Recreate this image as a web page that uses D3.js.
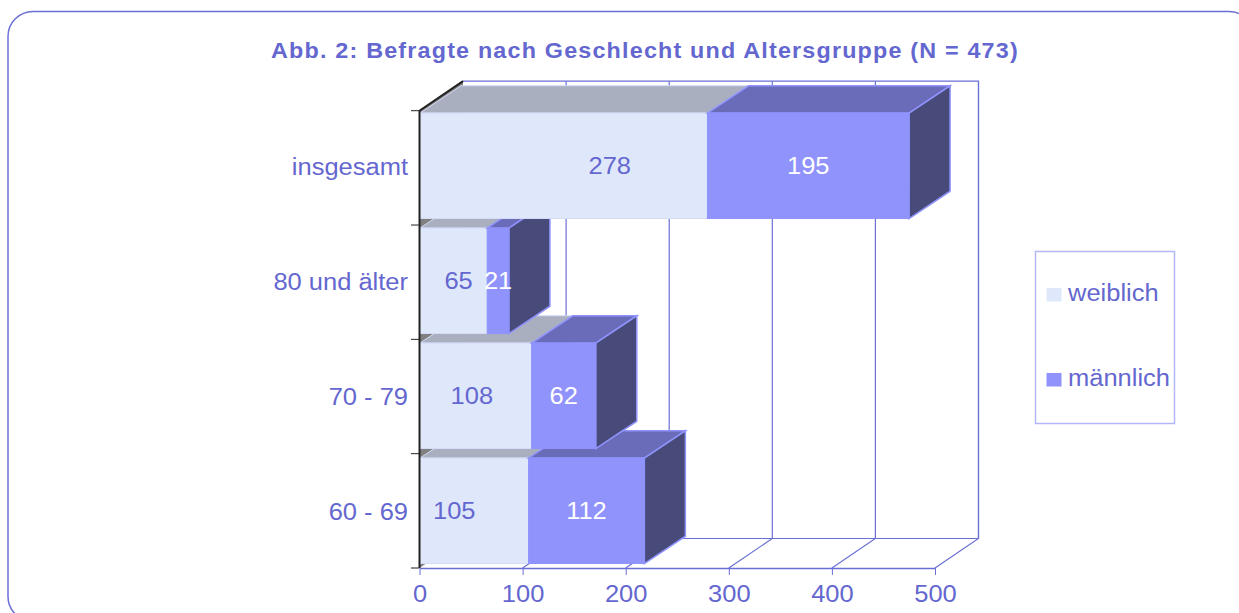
<!DOCTYPE html>
<html>
<head>
<meta charset="utf-8">
<script src="https://cdn.jsdelivr.net/npm/d3@7"></script>
<style>
  html, body { margin: 0; padding: 0; background: #fff; overflow: hidden; }
  svg { display: block; }
  text { font-family: "Liberation Sans", Arial, sans-serif; fill: #6467cf; }
</style>
</head>
<body>
<svg id="chart" width="1239" height="613"></svg>
<script>
// Chart values, bottom category first
const categories = ['60 - 69', '70 - 79', '80 und älter', 'insgesamt'];
const weiblich = [105, 108, 65, 278];
const maennlich = [112, 62, 21, 195];
const seriesNames = ['weiblich', 'männlich'];
const xTicks = [0, 100, 200, 300, 400, 500];

// Colors for front, top and side of each series
const seriesColors = {
    'weiblich': { front: '#dfe8fb', top: '#a9afbf', side: '#848796', edge: '#d3dbf7', width: 1 },
    'männlich': { front: '#8f93fb', top: '#6a6cba', side: '#484a7a', edge: '#8f93fb', width: 1.5 }
};
const lineColor = '#6a6fd6';

// The text in the original is stretched sideways
const stretch = 1.085;
const fontSize = '23.5px';
const placeText = (px, py) => `translate(${px},${py}) scale(${stretch},1)`;

// The original labels of the first series do not sit in the middle of the bars
const weiblichLabelShift = [-20, -4, 5, 46];

const svg = d3.select('#chart');

// Outer frame, its right and lower edges run off the picture
svg.append('rect')
    .attr('x', 8).attr('y', 11.5)
    .attr('width', 1246).attr('height', 610)
    .attr('rx', 25).attr('ry', 25)
    .attr('fill', 'none')
    .attr('stroke', lineColor)
    .attr('stroke-width', 1.5);

svg.append('text')
    .attr('transform', placeText(645, 58))
    .attr('text-anchor', 'middle')
    .style('font-size', '21.5px')
    .style('font-weight', 'bold')
    .style('letter-spacing', '1.1px')
    .text('Abb. 2: Befragte nach Geschlecht und Altersgruppe (N = 473)');

// Scales: the axis and the bars differ slightly in the original
const x = d3.scaleLinear().domain([0, 500]).range([419.5, 935]);
const barX = d3.scaleLinear().domain([0, 500]).range([420, 937]);
const y = d3.scaleBand().domain(categories).range([568.3, 108.3]).paddingInner(0.083).paddingOuter(0.0415);
const yTick = d3.scaleLinear().domain([0, categories.length]).range([568, 110.7]);

// Depth of the walls and of the bars
const wall = { dx: 43.5, dy: -29.5 };
const depth = { dx: 41, dy: -27.3 };

const line = d3.line();
const grid = svg.append('g').attr('fill', 'none').attr('stroke', lineColor).attr('stroke-width', 1.2);

// Left wall
svg.insert('path', 'g')
    .attr('d', line([
        [x(0), yTick(categories.length)],
        [x(0) + wall.dx, yTick(categories.length) + wall.dy],
        [x(0) + wall.dx, yTick(0) + wall.dy],
        [x(0), yTick(0)]
    ]) + 'Z')
    .attr('fill', '#808080');

// Back wall and floor
const backY = yTick(0) + wall.dy;
const topY = yTick(categories.length) + wall.dy;
grid.append('path').attr('d', line([[x(0) + wall.dx, topY], [x(500) + wall.dx, topY], [x(500) + wall.dx, backY], [x(0) + wall.dx, backY]]));
xTicks.slice(1).forEach(t => {
    grid.append('path').attr('d', line([[x(t), yTick(0)], [x(t) + wall.dx, backY], [x(t) + wall.dx, topY]]));
});

// Stacked bars, drawn bottom up so the upper ones cover the lower ones
const rows = categories.map((c, i) => ({ category: c, 'weiblich': weiblich[i], 'männlich': maennlich[i] }));
const stacked = d3.stack().keys(seriesNames)(rows);

categories.forEach((c, i) => {
    const groupBar = svg.append('g');
    const y0 = y(c);
    const h = y.bandwidth();
    stacked.forEach(s => {
        const col = seriesColors[s.key];
        const x0 = barX(s[i][0]);
        const x1 = barX(s[i][1]);
        groupBar.append('path')
            .attr('d', line([[x0, y0], [x0 + depth.dx, y0 + depth.dy], [x1 + depth.dx, y0 + depth.dy], [x1, y0]]) + 'Z')
            .attr('fill', col.top).attr('stroke', col.edge).attr('stroke-width', col.width);
        groupBar.append('path')
            .attr('d', line([[x1, y0], [x1 + depth.dx, y0 + depth.dy], [x1 + depth.dx, y0 + depth.dy + h], [x1, y0 + h]]) + 'Z')
            .attr('fill', col.side).attr('stroke', col.edge).attr('stroke-width', col.width);
        groupBar.append('rect')
            .attr('x', x0).attr('y', y0)
            .attr('width', x1 - x0).attr('height', h)
            .attr('fill', col.front).attr('stroke', col.edge).attr('stroke-width', 1);
    });
    // value labels
    stacked.forEach(s => {
        const shift = s.key === 'weiblich' ? weiblichLabelShift[i] : 0;
        groupBar.append('text')
            .attr('transform', placeText((barX(s[i][0]) + barX(s[i][1])) / 2 + shift, y0 + h / 2 + 8.5))
            .attr('text-anchor', 'middle')
            .style('font-size', fontSize)
            .style('fill', s.key === 'weiblich' ? '#6467cf' : '#ffffff')
            .text(s[i].data[s.key]);
    });
});

// X axis along the front of the floor
const xAxis = svg.append('g')
    .attr('transform', `translate(0,${yTick(0)})`)
    .call(d3.axisBottom(x).tickValues(xTicks).tickSize(7).tickSizeOuter(0));
xAxis.select('.domain').attr('stroke', lineColor).attr('stroke-width', 1.5);
xAxis.selectAll('line').attr('stroke', lineColor);
xAxis.selectAll('text')
    .attr('dy', null).attr('y', null)
    .attr('transform', placeText(0, 33.5))
    .style('font-size', fontSize);

// Y axis, ticks between the categories and labels on them
svg.append('g').selectAll('line')
    .data(d3.range(categories.length + 1))
    .join('line')
    .attr('x1', 411).attr('x2', 419)
    .attr('y1', d => yTick(d)).attr('y2', d => yTick(d))
    .attr('stroke', '#222');
svg.append('path')
    .attr('d', line([[x(0) + wall.dx, topY], [x(0), yTick(categories.length)], [x(0), yTick(0)]]))
    .attr('fill', 'none').attr('stroke', '#222').attr('stroke-width', 2);
svg.append('g').selectAll('text')
    .data(categories)
    .join('text')
    .attr('transform', d => placeText(408, y(d) + y.bandwidth() / 2 + 9.5))
    .attr('text-anchor', 'end')
    .style('font-size', fontSize)
    .text(d => d);

// Legend
const legend = svg.append('g');
legend.append('rect')
    .attr('x', 1035.5).attr('y', 251.5)
    .attr('width', 139).attr('height', 172)
    .attr('fill', '#fff').attr('stroke', '#b3b6f7').attr('stroke-width', 1.5);
const legendY = d3.scalePoint().domain(seriesNames).range([294.5, 379.5]);
seriesNames.forEach(name => {
    legend.append('rect')
        .attr('x', 1046.5).attr('y', legendY(name) - 6.5)
        .attr('width', 15).attr('height', 13.5)
        .attr('fill', seriesColors[name].front);
    legend.append('text')
        .attr('transform', placeText(1068, legendY(name) + 6.5))
        .style('font-size', fontSize)
        .text(name);
});
</script>
</body>
</html>
